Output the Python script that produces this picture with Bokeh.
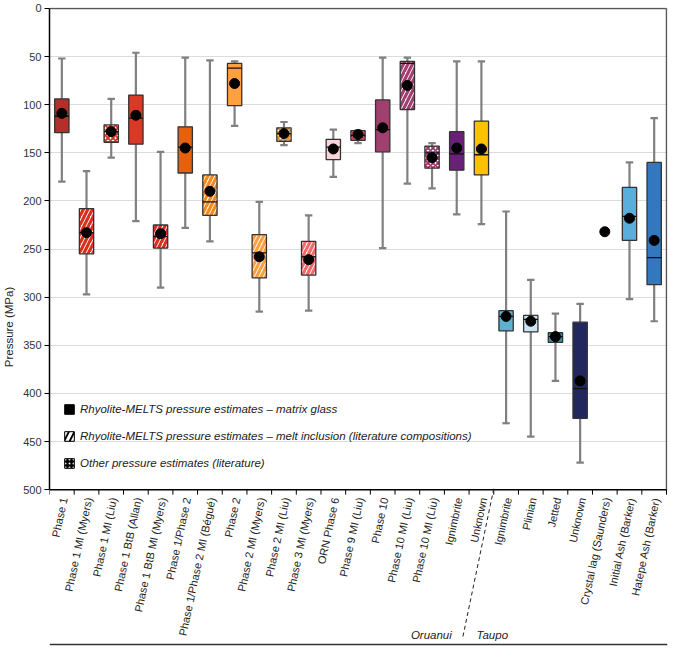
import math
from bokeh.plotting import figure
from bokeh.models import (Range1d, FixedTicker, Legend, LegendItem, ColumnDataSource)
from bokeh.core.properties import value
from bokeh.embed import file_html
from bokeh.resources import INLINE

nan = float("nan")

categories = ["Phase 1", "Phase 1 MI (Myers)", "Phase 1 MI (Liu)", "Phase 1 BtB (Allan)",
              "Phase 1 BtB MI (Myers)", "Phase 1/Phase 2", "Phase 1/Phase 2 MI (Bégué)",
              "Phase 2", "Phase 2 MI (Myers)", "Phase 2 MI (Liu)", "Phase 3 MI (Myers)",
              "ORN Phase 6", "Phase 9 MI (Liu)", "Phase 10", "Phase 10 MI (Liu)",
              "Phase 10 MI (Liu)", "Ignimbrite", "Unknown",
              "Ignimbrite", "Plinian", "Jetted", "Unknown", "Crystal lag (Saunders)",
              "Initial Ash (Barker)", "Hatepe Ash (Barker)"]
groups = ["Oruanui", "Taupo"]
group_sizes = [18, 7]
y_ticks = [0, 50, 100, 150, 200, 250, 300, 350, 400, 450, 500]

whisker_min = [52, 169, 94, 46, 149, 51, 54, 55, 201, 118, 215, 126, 127, 51, 51, 140, 55, 55,
               211, 282, 317, 307, nan, 160, 114]
q1 = [94, 208, 121, 90, 225, 123, 173, 57, 235, 124, 242, 136, 127, 95, 55, 143, 128, 117,
      314, 319, 337, 326, nan, 186, 160]
median = [112, 233, 128, 114, 237, 144, 201, 62, 254, 130, 258, 144, 132, 126, 57, 150, 151, 152,
          320, 323, 341, 395, nan, 216, 259]
q3 = [129, 255, 139, 141, 249, 171, 215, 101, 280, 138, 277, 157, 137, 149, 105, 166, 168, 173,
      335, 336, 347, 426, nan, 241, 287]
whisker_max = [180, 297, 155, 221, 290, 228, 242, 122, 315, 142, 314, 175, 140, 249, 182, 187, 214, 224,
               431, 445, 387, 472, nan, 302, 325]
mean = [109, 233, 128, 111, 234, 145, 190, 78, 258, 130, 261, 146, 131, 124, 80, 155, 145, 146,
        320, 325, 341, 387, 232, 218, 241]

# styles (one per category)
colors = ["#B3302A", "#D7301F", "#D7301F", "#D93A26", "#D7301F", "#E8600A", "#F28A1E",
          "#FCA040", "#FCA040", "#F28A1E", "#F26B6B", "#F9D5DA", "#D23A55", "#A0406E",
          "#A0406E", "#A0306E", "#6A1F78", "#FFC000",
          "#5BB1CE", "#C9E6F2", "#3D8FA7", "#22285E", "#000000", "#5AAEDC", "#3378BE"]
kinds = ["solid", "hatch", "dots", "solid", "hatch", "solid", "hatch", "solid", "hatch", "dots",
         "hatch", "solid", "dots", "solid", "hatch", "dots", "solid", "solid",
         "solid", "solid", "solid", "solid", "none", "solid", "solid"]

n = len(categories)
xs = [i + 0.5 for i in range(n)]
bw = 0.58
cw = 0.30
ymax = y_ticks[-1]
ybot = 663            # extra room below the axis for the category labels
px = 639 / (ybot + 1)  # approx pixels per MPa

p = figure(width=669, height=646, output_backend="svg", toolbar_location=None,
           x_range=Range1d(0, n + 0.04), y_range=Range1d(ybot, -1),
           x_axis_location=None,
           min_border_left=40, min_border_right=2, min_border_top=7, min_border_bottom=0)
p.background_fill_color = "white"
p.border_fill_color = "white"
p.outline_line_color = None

# grid
p.xgrid.visible = False
p.ygrid.grid_line_color = "#DCDCDC"
p.ygrid.grid_line_width = 1
p.ygrid.bounds = (0, n)

# y axis
p.yaxis.ticker = FixedTicker(ticks=y_ticks)
p.yaxis.bounds = (0, ymax)
p.yaxis.axis_label = "Pressure (MPa)"
p.yaxis.axis_label_text_font = "Liberation Sans"
p.yaxis.axis_label_text_font_style = "normal"
p.yaxis.axis_label_text_font_size = "11.5px"
p.yaxis.axis_label_text_color = "#222222"
p.yaxis.axis_label_standoff = 5
p.yaxis.major_label_text_font = "Liberation Sans"
p.yaxis.major_label_text_font_size = "11px"
p.yaxis.major_label_text_color = "#333333"
p.yaxis.major_label_standoff = 3
p.yaxis.major_tick_out = 5
p.yaxis.major_tick_in = 0
p.yaxis.minor_tick_out = 0
p.yaxis.minor_tick_in = 0
p.yaxis.axis_line_color = "black"
p.yaxis.axis_line_width = 1.5
p.yaxis.major_tick_line_color = "black"

# frame borders (top, right) and x axis line with boundary ticks
p.segment(x0=[0, n], x1=[n, n], y0=[0, 0], y1=[0, ymax], line_color="#595959", line_width=1.5)
p.segment(x0=[0], x1=[n], y0=[ymax], y1=[ymax], line_color="black", line_width=1.5)
bounds_x = list(range(0, n + 1))
p.segment(x0=bounds_x, x1=bounds_x, y0=[ymax] * len(bounds_x),
          y1=[ymax + 5 / px] * len(bounds_x), line_color="black", line_width=1)

# category labels
p.text(x=[x + 0.08 for x in xs], y=[ymax + 8 / px] * n, text=categories, angle=1.36,
       text_align="right", text_baseline="middle", text_font=value("Liberation Sans"),
       text_font_size=value("11px"), text_color="#222222")

# whiskers and caps
wx, wy0, wy1 = [], [], []
cx0, cx1, cy = [], [], []
for i in range(n):
    if math.isnan(q1[i]):
        continue
    wx += [xs[i], xs[i]]
    wy0 += [whisker_min[i], q3[i]]
    wy1 += [q1[i], whisker_max[i]]
    cx0 += [xs[i] - cw / 2, xs[i] - cw / 2]
    cx1 += [xs[i] + cw / 2, xs[i] + cw / 2]
    cy += [whisker_min[i], whisker_max[i]]
p.segment(x0=wx, x1=wx, y0=wy0, y1=wy1, line_color="#808080", line_width=2.2)
p.segment(x0=cx0, x1=cx1, y0=cy, y1=cy, line_color="#808080", line_width=2.2)


def subset(kind):
    idx = [i for i in range(n) if kinds[i] == kind]
    return ColumnDataSource(dict(x=[xs[i] for i in idx], q1=[q1[i] for i in idx],
                                 q3=[q3[i] for i in idx], c=[colors[i] for i in idx]))


p.vbar(x="x", top="q3", bottom="q1", width=bw, source=subset("solid"),
       fill_color="c", line_color="#333333", line_width=1.3)
p.vbar(x="x", top="q3", bottom="q1", width=bw, source=subset("hatch"),
       fill_color="white", hatch_color="c", hatch_pattern="/", hatch_scale=9, hatch_weight=3.2,
       line_color="#333333", line_width=1.3)
p.vbar(x="x", top="q3", bottom="q1", width=bw, source=subset("dots"),
       fill_color="white", hatch_color="c", hatch_pattern="x", hatch_scale=5, hatch_weight=1.8,
       line_color="#333333", line_width=1.3)

# medians
mx0 = [xs[i] - bw / 2 for i in range(n) if not math.isnan(median[i])]
mx1 = [xs[i] + bw / 2 for i in range(n) if not math.isnan(median[i])]
my = [median[i] for i in range(n) if not math.isnan(median[i])]
p.segment(x0=mx0, x1=mx1, y0=my, y1=my, line_color="#111111", line_width=1.3)

# means
p.scatter(xs, mean, size=10, fill_color="black", line_color="black")

# legend proxies (kept outside the visible range)
proxy = dict(x=[-10], top=[1], bottom=[2])
r1 = p.vbar(x="x", top="top", bottom="bottom", width=0.5, source=ColumnDataSource(proxy),
            fill_color="black", line_color="black")
r2 = p.vbar(x="x", top="top", bottom="bottom", width=0.5, source=ColumnDataSource(proxy),
            fill_color="black", hatch_color="white", hatch_pattern="/", hatch_scale=11,
            hatch_weight=3, line_color="black")
r3 = p.vbar(x="x", top="top", bottom="bottom", width=0.5, source=ColumnDataSource(proxy),
            fill_color="black", hatch_color="white", hatch_pattern="dot", hatch_scale=4,
            hatch_weight=2.5, line_color="black")
legend = Legend(items=[
    LegendItem(label="Rhyolite-MELTS pressure estimates \u2013 matrix glass", renderers=[r1]),
    LegendItem(label="Rhyolite-MELTS pressure estimates \u2013 melt inclusion (literature compositions)", renderers=[r2]),
    LegendItem(label="Other pressure estimates (literature)", renderers=[r3]),
], location=(14, 176))
legend.background_fill_alpha = 0
legend.border_line_alpha = 0
legend.padding = 0
legend.margin = 0
legend.glyph_width = 12
legend.glyph_height = 12
legend.label_height = 14
legend.spacing = 13
legend.label_standoff = 5
legend.label_text_font = "Liberation Sans"
legend.label_text_font_style = "italic"
legend.label_text_font_size = "11.5px"
legend.label_text_color = "#222222"
p.add_layout(legend)

# group separator, group labels, bottom rule
split = group_sizes[0]
p.segment(x0=[split], x1=[split - 1.26], y0=[ymax - 1], y1=[654],
          line_dash="4 3", line_color="#222222", line_width=1)
p.segment(x0=[0], x1=[n + 0.04], y0=[661], y1=[661], line_color="#333333", line_width=1.5)
p.text(x=[split - 1.7], y=[651], text=[groups[0]], text_align="right", text_baseline="middle",
       text_font=value("Liberation Sans"), text_font_style="italic",
       text_font_size=value("11.5px"), text_color="#222222")
p.text(x=[split - 0.7], y=[651], text=[groups[1]], text_align="left", text_baseline="middle",
       text_font=value("Liberation Sans"), text_font_style="italic",
       text_font_size=value("11.5px"), text_color="#222222")

open("out.html", "w").write(file_html(p, INLINE))
